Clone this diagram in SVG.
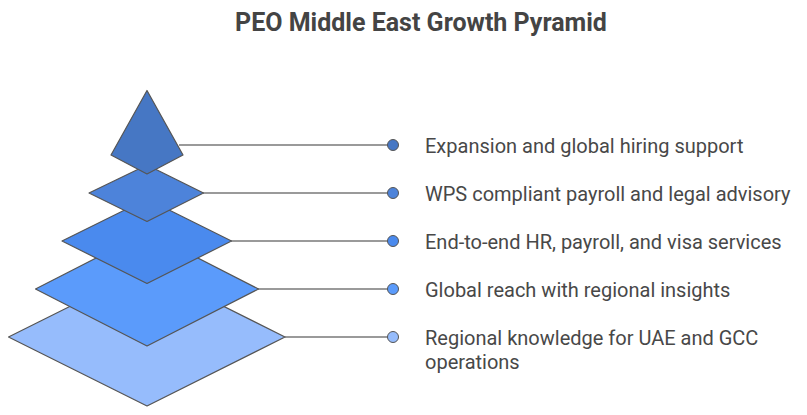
<svg xmlns="http://www.w3.org/2000/svg" width="807" height="415" viewBox="0 0 807 415">
<style>
.title{font-family:Roboto,"Liberation Sans",sans-serif;font-weight:bold;font-size:25px;fill:#444}
.lbl{font-family:Roboto,"Liberation Sans",sans-serif;font-size:20px;fill:#484848}
.shape{stroke:#555;stroke-width:1.2;stroke-linejoin:round}
.conn{stroke:#9a9a9a;stroke-width:2;fill:none}
.dot{stroke:#555;stroke-width:1}
</style>
<rect width="807" height="415" fill="#fff"/>
<text class="title" x="421" y="31" text-anchor="middle">PEO Middle East Growth Pyramid</text>
<g id="connectors">
<line class="conn" x1="285" y1="337" x2="393" y2="337"/>
<line class="conn" x1="258" y1="289" x2="393" y2="289"/>
<line class="conn" x1="231" y1="241" x2="393" y2="241"/>
<line class="conn" x1="203" y1="193" x2="393" y2="193"/>
<line class="conn" x1="179" y1="145" x2="393" y2="145"/>
</g>
<g id="level5">
<polygon class="shape" points="147,268 285,337 147,406 8.5,337" fill="#96bcfc"/>
<circle class="dot" cx="393" cy="337" r="5.5" fill="#96bcfc"/>
<text class="lbl" x="425" y="345">Regional knowledge for UAE and GCC</text>
<text class="lbl" x="425" y="369">operations</text>
</g>
<g id="level4">
<polygon class="shape" points="147,232 258.5,289 147,346 35.5,289" fill="#5b9bfb"/>
<circle class="dot" cx="393" cy="289" r="5.5" fill="#5b9bfb"/>
<text class="lbl" x="425" y="296.5">Global reach with regional insights</text>
</g>
<g id="level3">
<polygon class="shape" points="147,199 231.5,241 147,283.5 62,241" fill="#4a8aee"/>
<circle class="dot" cx="393" cy="241" r="5.5" fill="#4a8aee"/>
<text class="lbl" x="425" y="248.5">End-to-end HR, payroll, and visa services</text>
</g>
<g id="level2">
<polygon class="shape" points="147,165 203.5,193 147,221.5 89,193" fill="#4d83da"/>
<circle class="dot" cx="393" cy="193" r="5.5" fill="#4d83da"/>
<text class="lbl" x="425" y="200.5">WPS compliant payroll and legal advisory</text>
</g>
<g id="level1">
<polygon class="shape" points="147,90.5 183,155 147,174 111,155" fill="#4677c4"/>
<circle class="dot" cx="393" cy="145" r="5.5" fill="#4677c4"/>
<text class="lbl" x="425" y="152.5">Expansion and global hiring support</text>
</g>
</svg>
